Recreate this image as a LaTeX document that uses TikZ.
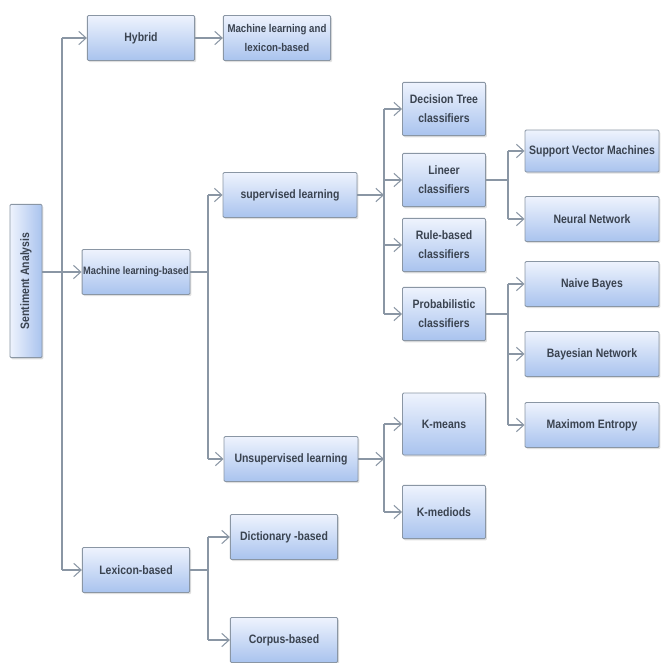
\documentclass[tikz,border=0pt]{standalone}
\usepackage{fontspec}
\setmainfont[FakeStretch=0.86]{Liberation Sans}
\usepackage{tikz}
\usetikzlibrary{arrows.meta,positioning,shadows}

\definecolor{edgegray}{HTML}{8A96A4}
\definecolor{boxtop}{HTML}{EEF3FD}
\definecolor{boxbot}{HTML}{A9C3EE}
\definecolor{txt}{HTML}{3A4350}

\begin{document}
\begin{tikzpicture}[x=0.3mm, y=-0.3mm,
  box/.style={draw=edgegray, line width=0.8pt, rounded corners=1pt,
              top color=boxtop, bottom color=boxbot,
              drop shadow={opacity=0.25, shadow xshift=0.4mm, shadow yshift=-0.5mm},
              font=\fontsize{10.4}{16}\selectfont\bfseries, text=txt,
              align=center, inner sep=1pt, minimum height=13.5mm},
  sbox/.style={box, minimum width=24.9mm, minimum height=16mm},
  mbox/.style={box, minimum width=32.2mm},
  lbox/.style={box, minimum width=40.2mm},
  line/.style={draw=edgegray, line width=0.9pt},
  arr/.style={line, -{Straight Barb[length=2.2mm,width=4mm]}},
]
  \useasboundingbox (0,0) rectangle (660,663);

  %% root and first level
  \node[box, minimum width=46mm, minimum height=9.6mm, rotate=90,
        shading angle=0, left color=boxtop, right color=boxbot] (sa) at (26,281) {Sentiment Analysis};
  \node[mbox] (hyb) at (141,38)  {Hybrid};
  \node[mbox, font=\fontsize{9.6}{17}\selectfont\bfseries] (mll) at (277,38) {Machine learning and\\lexicon-based};
  \node[mbox, font=\fontsize{9.2}{16}\selectfont\bfseries] (mlb) at (136,272) {Machine learning-based};
  \node[mbox] (lex) at (136,570) {Lexicon-based};

  %% machine learning
  \node[lbox] (sup)   at (290,195) {supervised learning};
  \node[lbox] (unsup) at (291,459) {Unsupervised learning};
  \node[sbox] (dt)   at (444,109) {Decision Tree\\classifiers};
  \node[sbox] (lin)  at (444,180) {Lineer\\classifiers};
  \node[sbox] (rule) at (444,245) {Rule-based\\classifiers};
  \node[sbox] (prob) at (444,314) {Probabilistic\\classifiers};
  \node[lbox, minimum height=12.6mm] (svm) at (592,151) {Support Vector Machines};
  \node[lbox] (nn) at (592,219) {Neural Network};
  \node[lbox] (nb) at (592,284) {Naive Bayes};
  \node[lbox] (bn) at (592,354) {Bayesian Network};
  \node[lbox] (me) at (592,425) {Maximom Entropy};
  \node[sbox, minimum height=18.6mm] (km) at (444,424) {K-means};
  \node[sbox] (kmd) at (444,512) {K-mediods};

  %% lexicon
  \node[mbox] (dict) at (284,537) {Dictionary -based};
  \node[mbox] (corp) at (284,640) {Corpus-based};

  %% bus lines
  \coordinate (t0) at (62,0);
  \coordinate (t1) at (208,0);
  \coordinate (t2) at (384,0);
  \coordinate (t3) at (508,0);

  \draw[arr] (sa.south |- mlb) -- (mlb);
  \draw[line] (t0 |- hyb) -- (t0 |- lex);
  \foreach \n in {hyb,lex} \draw[arr] (t0 |- \n) -- (\n);
  \draw[arr] (hyb) -- (mll);

  \draw[line] (mlb.east) -- (t1 |- mlb);
  \draw[line] (t1 |- sup) -- (t1 |- unsup);
  \foreach \n in {sup,unsup} \draw[arr] (t1 |- \n) -- (\n);

  \draw[line] (lex.east) -- (t1 |- lex);
  \draw[line] (t1 |- dict) -- (t1 |- corp);
  \foreach \n in {dict,corp} \draw[arr] (t1 |- \n) -- (\n);

  \draw[arr] (sup) -- (t2 |- sup);
  \draw[line] (t2 |- dt) -- (t2 |- prob);
  \foreach \n in {dt,lin,rule,prob} \draw[arr] (t2 |- \n) -- (\n);

  \draw[arr] (unsup) -- (t2 |- unsup);
  \draw[line] (t2 |- km) -- (t2 |- kmd);
  \foreach \n in {km,kmd} \draw[arr] (t2 |- \n) -- (\n);

  \draw[line] (lin) -- (t3 |- lin);
  \draw[line] (t3 |- svm) -- (t3 |- nn);
  \foreach \n in {svm,nn} \draw[arr] (t3 |- \n) -- (\n);

  \draw[line] (prob) -- (t3 |- prob);
  \draw[line] (t3 |- nb) -- (t3 |- me);
  \foreach \n in {nb,bn,me} \draw[arr] (t3 |- \n) -- (\n);
\end{tikzpicture}
\end{document}
